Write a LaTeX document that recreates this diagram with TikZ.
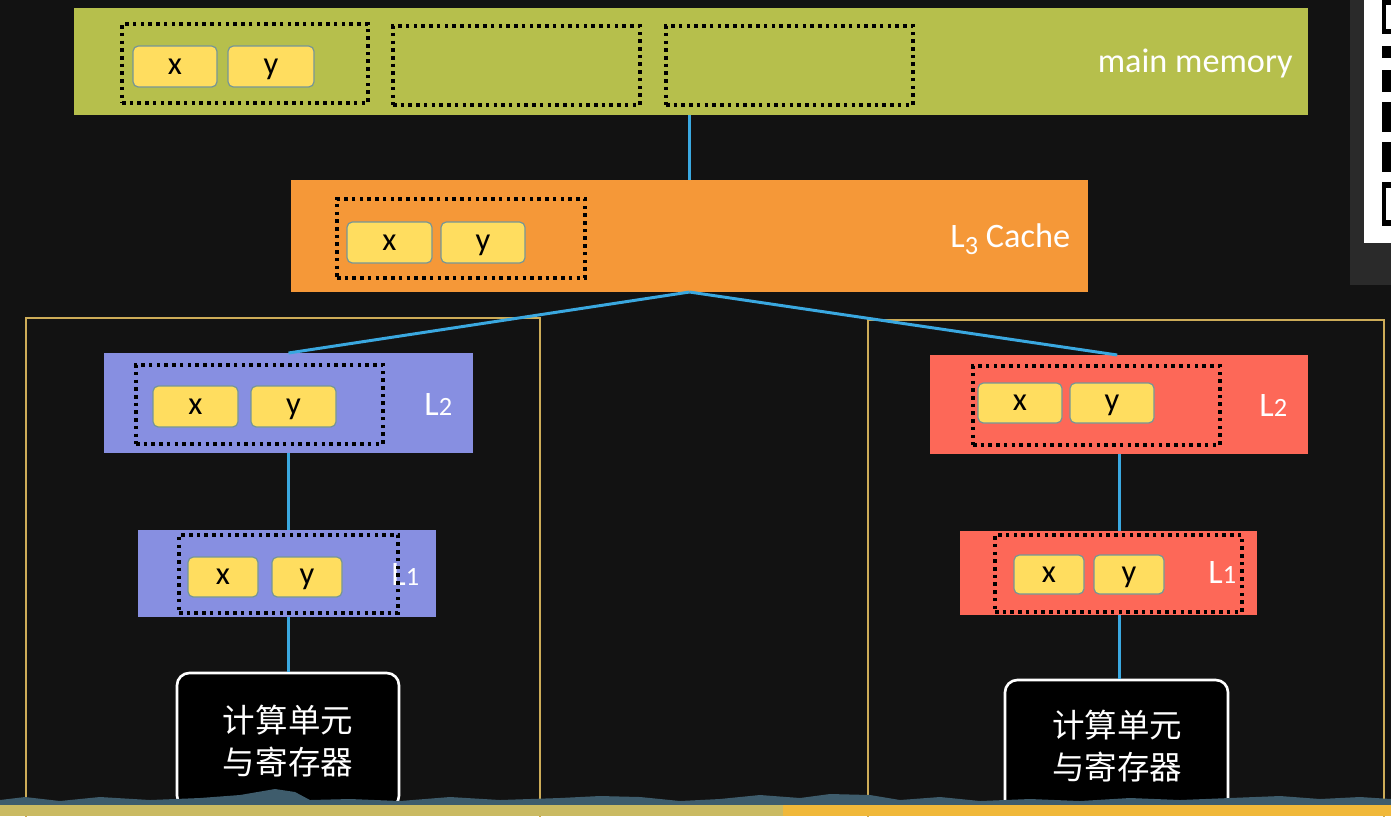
\documentclass[tikz,border=0pt]{standalone}
\usepackage{fontspec}
\setmainfont{Carlito}
\newfontfamily\cjk{Noto Sans CJK SC}
\usetikzlibrary{fit}
\definecolor{bgc}{RGB}{18,18,18}
\definecolor{olivec}{RGB}{182,191,76}
\definecolor{orangec}{RGB}{245,152,56}
\definecolor{bluec}{RGB}{135,143,225}
\definecolor{redc}{RGB}{253,104,88}
\definecolor{cellc}{RGB}{255,221,95}
\definecolor{cellb}{RGB}{118,150,150}
\definecolor{linkc}{RGB}{58,168,224}
\definecolor{framec}{RGB}{205,172,88}
\definecolor{stripa}{RGB}{202,186,98}
\definecolor{stripb}{RGB}{240,184,58}
\definecolor{hillc}{RGB}{62,92,108}
\definecolor{panelc}{RGB}{42,42,42}
\newcommand{\dg}[1]{{\fontsize{15}{15}\selectfont #1}}
\begin{document}
\begin{tikzpicture}[x=0.02cm,y=-0.02cm,
  layer/.style={draw=none,inner sep=0,outer sep=0},
  dotbox/.style={draw=black,line width=2pt,dash pattern=on 2pt off 2.4pt,inner sep=0,outer sep=0},
  cell/.style={fill=cellc,draw=cellb,line width=0.7pt,rounded corners=3pt,inner sep=0,
    label={[celltext]center:#1}},
  celltext/.style={inner sep=0,font=\fontsize{18.5}{18.5}\selectfont,text height=11pt,text depth=2pt},
  link/.style={draw=linkc,line width=1.7pt},
  frame/.style={draw=framec,line width=1.1pt,inner sep=0},
  lbl/.style={text=white,font=\fontsize{19.5}{19.5}\selectfont,inner sep=0},
  cpu/.style={draw=white,line width=1.5pt,fill=black,rounded corners=7pt,inner sep=0},
  cputext/.style={text=white,inner sep=0,font=\cjk\fontsize{18.5}{23.5}\selectfont,align=center}]
\useasboundingbox (0,0) rectangle (1391,816);
\clip (0,0) rectangle (1391,816);
\fill[bgc] (0,0) rectangle (1391,816);
% frames
\node[frame,fit={(26,318) (540,830)}] (frA) {};
\node[frame,fit={(868,320) (1384,830)}] (frB) {};
% main memory
\node[layer,fill=olivec,fit={(74,8) (1308,115)}] (mm) {};
\node[lbl,anchor=base east] (mmlbl) at (1293,72) {main memory};
\node[dotbox,fit={(122,24) (368,103)}] (mmA) {};
\node[dotbox,fit={(393,26) (640,105)}] (mmB) {};
\node[dotbox,fit={(666,26) (913,105)}] (mmC) {};
\node[cell=x,fit={(133,46) (217,87)}] (mmx) {};
\node[cell=y,fit={(228,46) (314,87)}] (mmy) {};
% L3
\node[layer,fill=orangec,fit={(291,180) (1088,292)}] (l3) {};
\node[lbl,anchor=base west] (l3lbl) at (950,247) {L\raisebox{-0.22em}{\dg{3}} Cache};
\node[dotbox,fit={(337,199) (585,278)}] (l3d) {};
\node[cell=x,fit={(347,222) (432,263)}] (l3x) {};
\node[cell=y,fit={(441,222) (525,263)}] (l3y) {};
% left core
\node[layer,fill=bluec,fit={(104,353) (473,453)}] (aL2) {};
\node[lbl,anchor=base west] (aL2lbl) at (424,415) {L\dg{2}};
\node[dotbox,fit={(136,365) (383,444)}] (aL2d) {};
\node[cell=x,fit={(153,386) (238,427)}] (aL2x) {};
\node[cell=y,fit={(251,386) (336,427)}] (aL2y) {};
\node[layer,fill=bluec,fit={(138,530) (436,617)}] (aL1) {};
\node[lbl,anchor=base west] (aL1lbl) at (391,585) {L\dg{1}};
\node[dotbox,fit={(179,535) (398,613)}] (aL1d) {};
\node[cell=x,fit={(188,557) (258,597)}] (aL1x) {};
\node[cell=y,fit={(272,557) (342,597)}] (aL1y) {};
\node[cpu,fit={(177,673) (399,808)}] (cpuA) {};
\node[cputext] (cpuAt) at (288,741) {计算单元\\与寄存器};
% right core
\node[layer,fill=redc,fit={(930,355) (1308,454)}] (bL2) {};
\node[lbl,anchor=base west] (bL2lbl) at (1259,416) {L\dg{2}};
\node[dotbox,fit={(973,366) (1220,445)}] (bL2d) {};
\node[cell=x,fit={(978,383) (1062,423)}] (bL2x) {};
\node[cell=y,fit={(1070,383) (1154,423)}] (bL2y) {};
\node[layer,fill=redc,fit={(960,531) (1257,615)}] (bL1) {};
\node[lbl,anchor=base west] (bL1lbl) at (1208,583) {L\dg{1}};
\node[dotbox,fit={(995,535) (1242,612)}] (bL1d) {};
\node[cell=x,fit={(1014,555) (1084,594)}] (bL1x) {};
\node[cell=y,fit={(1094,555) (1164,594)}] (bL1y) {};
\node[cpu,fit={(1005,680) (1228,812)}] (cpuB) {};
\node[cputext] (cpuBt) at (1117,746) {计算单元\\与寄存器};
% connectors
\draw[link] (l3.north |- mm.south) -- (l3.north);
\draw[link] (l3.south) -- (aL2.north);
\draw[link] (l3.south) -- ([xshift=-1pt]bL2.north);
\draw[link] (aL2.south) -- (aL2.south |- aL1.north);
\draw[link] (aL2.south |- aL1.south) -- (aL2.south |- cpuA.north);
\draw[link] (bL2.south) -- (bL2.south |- bL1.north);
\draw[link] (bL2.south |- bL1.south) -- (bL2.south |- cpuB.north);
% bottom strip
\fill[hillc] (0,806) -- (0,800) -- (25,797) -- (60,801) -- (100,797) -- (150,800) -- (200,798)
  -- (240,795) -- (275,789) -- (295,792) -- (310,800) -- (350,799) -- (400,801) -- (450,797)
  -- (500,800) -- (560,798) -- (600,796) -- (640,797) -- (680,801) -- (720,799) -- (760,795)
  -- (800,798) -- (830,794) -- (870,795) -- (900,800) -- (940,797) -- (980,801) -- (1030,799)
  -- (1080,801) -- (1130,798) -- (1180,800) -- (1230,798) -- (1280,796) -- (1320,799)
  -- (1360,797) -- (1391,799) -- (1391,806) -- cycle;
\fill[stripa] (0,805) rectangle (783,816);
\fill[stripb] (783,805) rectangle (1391,816);
% side panel
\fill[panelc] (1350,0) rectangle (1391,285);
\fill[white] (1364,0) rectangle (1391,243);
\fill[black] (1382,0) rectangle (1391,34);
\fill[white] (1386,5) rectangle (1391,29);
\fill[black] (1382,46) rectangle (1391,58);
\fill[black] (1382,70) rectangle (1391,92);
\fill[black] (1382,102) rectangle (1391,132);
\fill[black] (1382,142) rectangle (1391,172);
\fill[black] (1382,182) rectangle (1391,226);
\fill[white] (1386,188) rectangle (1391,220);
\end{tikzpicture}
\end{document}
